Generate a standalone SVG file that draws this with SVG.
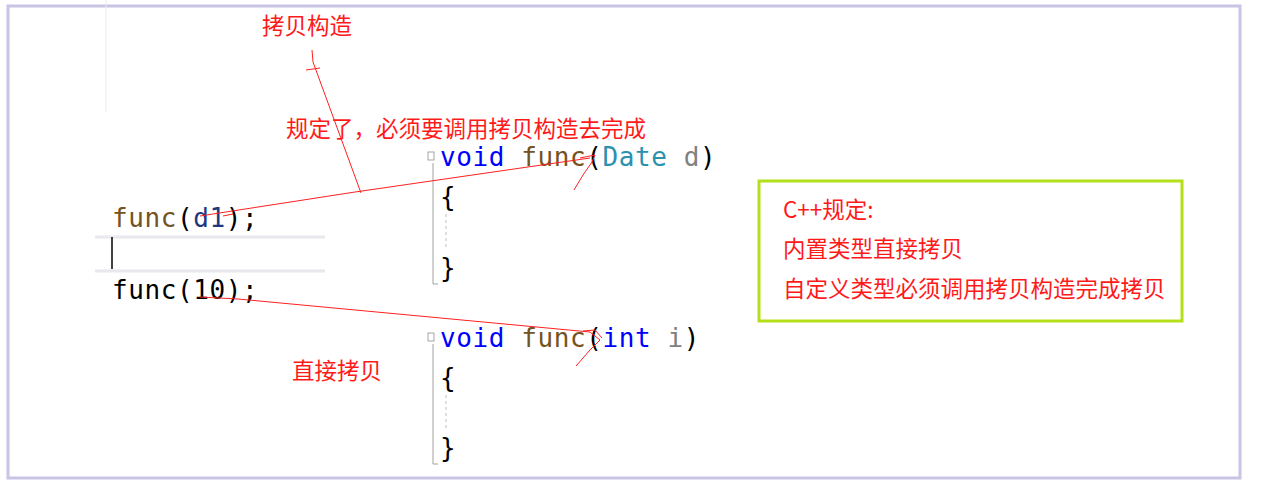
<svg xmlns="http://www.w3.org/2000/svg" width="1262" height="491" viewBox="0 0 1262 491">
<style>
.code{font-family:"DejaVu Sans Mono","Liberation Mono",monospace;font-size:26px;letter-spacing:0.6px}
.red{font-family:"Noto Sans CJK SC","Noto Sans",sans-serif;font-size:22.5px;fill:#ff1a1a}
.ln{stroke:#ff2020;stroke-width:1;fill:none}
.kw{fill:#0000ff}.fn{fill:#74531f}.ty{fill:#2b91af}.pr{fill:#808080}.bk{fill:#000}.vr{fill:#1f377f}
.gut{stroke:#a0a0a0;stroke-width:1;fill:none}
</style>
<rect x="0" y="0" width="1262" height="491" fill="#fff"/>
<rect x="8" y="6" width="1232" height="472" fill="none" stroke="#c8c4e4" stroke-width="3"/>
<line x1="106" y1="0" x2="106" y2="112" stroke="#ececec"/>
<g id="label-copyctor"><text class="red" x="262" y="34">拷贝构造</text></g>
<g id="label-rule"><text class="red" x="286" y="137">规定了，必须要调用拷贝构造去完成</text></g>
<g id="label-direct"><text class="red" x="292" y="379">直接拷贝</text></g>
<g id="call-code">
<line x1="95" y1="237" x2="325" y2="237" stroke="#e8e8ee" stroke-width="3"/>
<line x1="95" y1="271" x2="325" y2="271" stroke="#e8e8ee" stroke-width="3"/>
<line x1="112" y1="237" x2="112" y2="269" stroke="#000" stroke-width="1.5"/>
<text class="code" x="112" y="227"><tspan class="fn">func</tspan><tspan class="bk">(</tspan><tspan class="vr">d1</tspan><tspan class="bk">);</tspan></text>
<text class="code bk" x="112" y="299">func(10);</text>
</g>
<g id="func-date">
<rect x="428" y="152" width="6" height="8" fill="none" stroke="#909090" stroke-width="0.8"/>
<path class="gut" d="M433 163 V284 H438"/>
<line x1="446" y1="214" x2="446" y2="250" stroke="#c0c0c0" stroke-dasharray="3,3"/>
<text class="code" x="440" y="166"><tspan class="kw">void</tspan> <tspan class="fn">func</tspan><tspan class="bk">(</tspan><tspan class="ty">Date</tspan> <tspan class="pr">d</tspan><tspan class="bk">)</tspan></text>
<text class="code bk" x="440" y="206">{</text>
<text class="code bk" x="440" y="277">}</text>
</g>
<g id="func-int">
<rect x="428" y="333" width="6" height="8" fill="none" stroke="#909090" stroke-width="0.8"/>
<path class="gut" d="M433 344 V464 H438"/>
<line x1="446" y1="395" x2="446" y2="430" stroke="#c0c0c0" stroke-dasharray="3,3"/>
<text class="code" x="440" y="347"><tspan class="kw">void</tspan> <tspan class="fn">func</tspan><tspan class="bk">(</tspan><tspan class="kw">int</tspan> <tspan class="pr">i</tspan><tspan class="bk">)</tspan></text>
<text class="code bk" x="440" y="387">{</text>
<text class="code bk" x="440" y="457">}</text>
</g>
<g id="rule-box">
<rect x="759" y="181" width="423" height="140" fill="none" stroke="#b4e01a" stroke-width="3"/>
<text class="red" x="783" y="218">C++规定:</text>
<text class="red" x="783" y="257">内置类型直接拷贝</text>
<text class="red" x="783" y="297">自定义类型必须调用拷贝构造完成拷贝</text>
</g>
<g id="connectors">
<path class="ln" d="M200 216 L355 192 L590 158"/>
<path class="ln" d="M223 216 L233 214 M580 158 L595 155 L592 162 L583 175 L574 190"/>
<path class="ln" d="M361 193 L313 62 M306 70 L320 68 M313 62 L312 50"/>
<path class="ln" d="M200 297 L238 299 L590 332 L600 340 L590 350 L576 366"/>
<path class="ln" d="M583 331 L595 330 L602 338"/>
</g>
</svg>
